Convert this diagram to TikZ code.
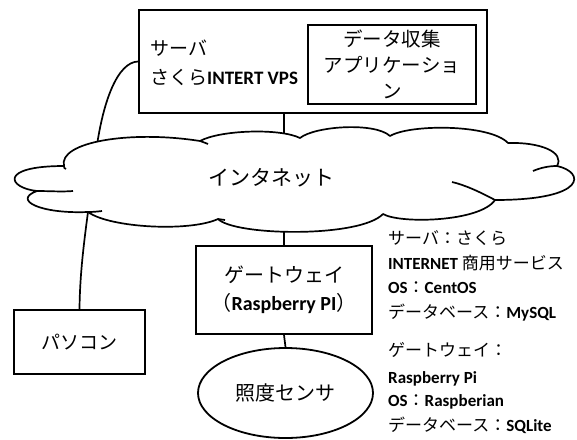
\documentclass[tikz,border=0pt]{standalone}
\usepackage{fontspec}
\usetikzlibrary{shapes.geometric}
\setmainfont{Carlito}
\newfontfamily\jp{Noto Sans CJK JP}
\newcommand\lat[1]{{\rmfamily\bfseries #1}}
\begin{document}
\begin{tikzpicture}[x=1pt,y=-1pt,
  box/.style={draw, line width=1.8pt, inner sep=0pt},
  conn/.style={line width=1.7pt},
  cloudline/.style={line width=1.7pt, line join=round},
  spec/.style={anchor=base west, inner sep=0pt, font=\jp\fontsize{17}{20}\selectfont}]
\useasboundingbox (0,0) rectangle (577,439);
% nodes
\node[box, minimum width=348pt, minimum height=103pt] (srv) at (313,61.5) {};
\node[anchor=west, inner sep=0pt, align=left, font=\jp\fontsize{19}{29}\selectfont] (srvtxt) at (150,62.5) {サーバ\\さくら\lat{INTERT VPS}};
\node[box, minimum width=168pt, minimum height=79pt, align=center, font=\jp\fontsize{19.5}{26}\selectfont] (app) at (392,64.5) {データ収集\\アプリケーショ\\ン};
\node[box, minimum width=176pt, minimum height=88pt, align=center, font=\jp\fontsize{20}{28}\selectfont] (gw) at (284,290) {ゲートウェイ\\（\lat{Raspberry PI}）};
\node[box, minimum width=131pt, minimum height=64pt, font=\jp\fontsize{19}{24}\selectfont] (pc) at (79.5,342) {パソコン};
\node[draw, line width=1.8pt, ellipse, minimum width=175pt, minimum height=90pt, inner sep=0pt, font=\jp\fontsize{20}{24}\selectfont] (sen) at (285.5,393) {照度センサ};
% connectors (behind cloud)
\draw[conn] (srv.south -| gw.north) -- (gw.north);
\draw[conn] (gw.south) -- (sen.north);
\draw[conn] (srv.west) .. controls (118,62) and (102,100) .. (95,160)
            .. controls (88,215) and (80,260) .. (pc.north);
% cloud
\draw[cloudline, fill=white] (64,166)
 .. controls (58,142) and (130,130) .. (200,141)
 .. controls (220,130) and (280,128) .. (300,138)
 .. controls (315,126) and (375,122) .. (390,136)
 .. controls (410,124) and (490,124) .. (508,143)
 .. controls (540,142) and (565,152) .. (557,166)
 .. controls (585,172) and (588,200) .. (495,200)
 .. controls (480,222) and (400,224) .. (383,214)
 .. controls (360,238) and (235,236) .. (218,219)
 .. controls (190,232) and (110,228) .. (88,212)
 .. controls (40,214) and (12,200) .. (37,191)
 .. controls (8,188) and (-2,166) .. (64,166) -- cycle;
% cloud inner tails
\draw[cloudline] (37,191) .. controls (50,191) and (62,192) .. (73,191);
\draw[cloudline] (88,212) .. controls (93,212) and (98,211.5) .. (102,211);
\draw[cloudline] (64,166) .. controls (64,168) .. (66,169);
\draw[cloudline] (200,141) .. controls (203,142) .. (208,144);
\draw[cloudline] (218,219) .. controls (221,219.5) .. (225,220);
\draw[cloudline] (557,166) .. controls (548,166) and (540,168) .. (533,171);
\draw[cloudline] (495,200) .. controls (480,192) and (465,185) .. (452,182);
\node[inner sep=0pt, font=\jp\fontsize{21}{24}\selectfont] (net) at (271,178) {インタネット};
% spec texts
\node[spec] (s1) at (388,244) {サーバ：さくら};
\node[spec] (s2) at (388,269) {\lat{INTERNET} 商用サービス};
\node[spec] (s3) at (388,293) {\lat{OS}：\lat{CentOS}};
\node[spec] (s4) at (388,318) {データベース：\lat{MySQL}};
\node[spec] (s5) at (388,356) {ゲートウェイ：};
\node[spec] (s6) at (388,383) {\lat{Raspberry Pi}};
\node[spec] (s7) at (388,406) {\lat{OS}：\lat{Raspberian}};
\node[spec] (s8) at (388,431) {データベース：\lat{SQLite}};
\end{tikzpicture}
\end{document}
